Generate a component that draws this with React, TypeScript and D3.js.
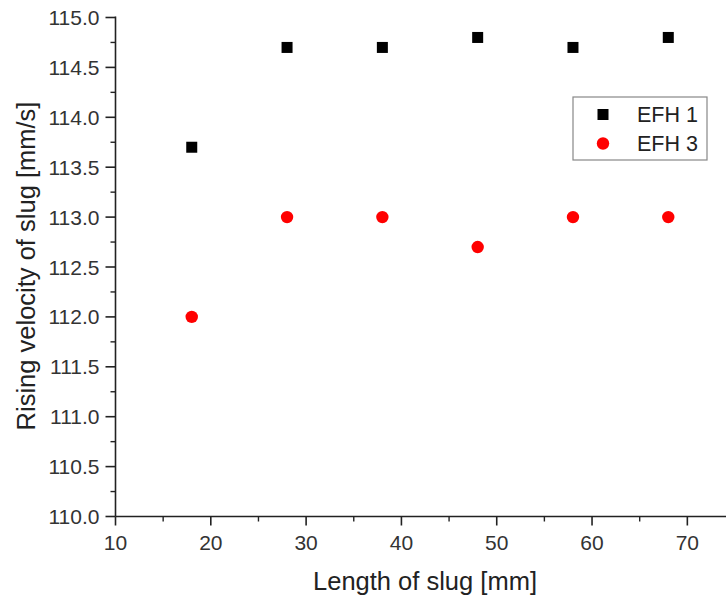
import React from "react";
import * as d3 from "d3";

const lengths = [18, 28, 38, 48, 58, 68];
const efh1 = [113.7, 114.7, 114.7, 114.8, 114.7, 114.8];
const efh3 = [112.0, 113.0, 113.0, 112.7, 113.0, 113.0];
const xMajorTicks = [10, 20, 30, 40, 50, 60, 70];
const xMinorTicks = [15, 25, 35, 45, 55, 65];
const yMajorTicks = [110, 110.5, 111, 111.5, 112, 112.5, 113, 113.5, 114, 114.5, 115];
const yMinorTicks = [110.25, 110.75, 111.25, 111.75, 112.25, 112.75, 113.25, 113.75, 114.25, 114.75];
const seriesNames = ["EFH 1", "EFH 3"];

const W = 726;
const H = 599;
const font = "Liberation Sans, Arial, sans-serif";

export default function App() {
  const x = d3.scaleLinear().domain([10, 75]).range([115.5, 735]);
  const y = d3.scaleLinear().domain([110, 115]).range([516.5, 17.5]);
  const axisColor = "#222";
  const textColor = "#333";
  const sq = 11;
  const legendX = 573;
  const legendY = 97;

  return (
    <svg
      width={W}
      height={H}
      style={{ position: "absolute", left: 0, top: 0, background: "#fff" }}
      fontFamily={font}
    >
      {/* Y axis */}
      <line x1={x(10)} x2={x(10)} y1={y(115) - 1} y2={y(110)} stroke={axisColor} strokeWidth={1.6} />
      {yMajorTicks.map((t) => (
        <g key={"ym" + t}>
          <line x1={x(10) - 10} x2={x(10)} y1={y(t)} y2={y(t)} stroke={axisColor} strokeWidth={1.6} />
          <text x={x(10) - 16} y={y(t)} dy="0.36em" textAnchor="end" fontSize={21} fill={textColor}>
            {t.toFixed(1)}
          </text>
        </g>
      ))}
      {yMinorTicks.map((t) => (
        <line key={"yn" + t} x1={x(10) - 5} x2={x(10)} y1={y(t)} y2={y(t)} stroke={axisColor} strokeWidth={1.4} />
      ))}
      {/* X axis */}
      <line x1={x(10)} x2={W} y1={y(110)} y2={y(110)} stroke={axisColor} strokeWidth={1.6} />
      {xMajorTicks.map((t) => (
        <g key={"xm" + t}>
          <line x1={x(t)} x2={x(t)} y1={y(110)} y2={y(110) + 9} stroke={axisColor} strokeWidth={1.6} />
          <text x={x(t)} y={550} textAnchor="middle" fontSize={21} fill={textColor}>
            {t}
          </text>
        </g>
      ))}
      {xMinorTicks.map((t) => (
        <line key={"xn" + t} x1={x(t)} x2={x(t)} y1={y(110)} y2={y(110) + 5} stroke={axisColor} strokeWidth={1.4} />
      ))}
      {/* Titles */}
      <text x={425} y={590} textAnchor="middle" fontSize={25.5} fill="#222">
        Length of slug [mm]
      </text>
      <text
        transform={`translate(35, 266) rotate(-90)`}
        textAnchor="middle"
        fontSize={25.5}
        fill="#222"
      >
        Rising velocity of slug [mm/s]
      </text>
      {/* Data */}
      {lengths.map((l, i) => (
        <rect key={"a" + i} x={x(l) - sq / 2} y={y(efh1[i]) - sq / 2} width={sq} height={sq} fill="#000" />
      ))}
      {lengths.map((l, i) => (
        <circle key={"b" + i} cx={x(l)} cy={y(efh3[i])} r={6.2} fill="#f00" />
      ))}
      {/* Legend */}
      <rect x={legendX} y={legendY} width={134} height={63} fill="#fff" stroke="#888" strokeWidth={1.2} />
      <rect x={603 - sq / 2} y={114.5 - sq / 2} width={sq} height={sq} fill="#000" />
      <circle cx={603} cy={143.5} r={6.2} fill="#f00" />
      <text x={637} y={114.5} dy="0.36em" fontSize={21.5} fill="#222">
        {seriesNames[0]}
      </text>
      <text x={637} y={143.5} dy="0.36em" fontSize={21.5} fill="#222">
        {seriesNames[1]}
      </text>
    </svg>
  );
}
